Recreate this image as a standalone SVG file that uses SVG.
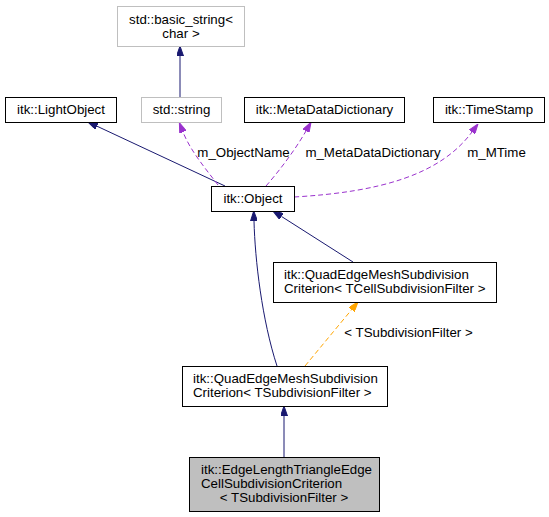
<svg xmlns="http://www.w3.org/2000/svg" width="549" height="517" viewBox="0 0 549 517">
<defs>
<style>
text{font-family:"Liberation Sans",Arial,sans-serif;font-size:13.3px;fill:#000}
.c{text-anchor:middle}
.box{fill:#fff;stroke:#000;stroke-width:1}
.gbox{fill:#fff;stroke:#bfbfbf;stroke-width:1}
.main{fill:#bfbfbf;stroke:#000;stroke-width:1}
.inh{fill:none;stroke:#191970;stroke-width:1}
.use{fill:none;stroke:#9a32cd;stroke-width:1;stroke-dasharray:5,3}
.tpl{fill:none;stroke:#ffa500;stroke-width:1;stroke-dasharray:5,3}
</style>
<marker id="aN" markerUnits="userSpaceOnUse" viewBox="0 0 10 7" refX="0" refY="3.5" markerWidth="10" markerHeight="7" orient="auto"><path d="M0,0L10,3.5L0,7z" fill="#191970" stroke="#191970"/></marker>
<marker id="aP" markerUnits="userSpaceOnUse" viewBox="0 0 10 7" refX="0" refY="3.5" markerWidth="10" markerHeight="7" orient="auto"><path d="M0,0L10,3.5L0,7z" fill="#9a32cd" stroke="#9a32cd"/></marker>
<marker id="aO" markerUnits="userSpaceOnUse" viewBox="0 0 10 7" refX="0" refY="3.5" markerWidth="10" markerHeight="7" orient="auto"><path d="M0,0L10,3.5L0,7z" fill="#ffa500" stroke="#ffa500"/></marker>
</defs>
<rect width="549" height="517" fill="#fff"/>
<g id="connectors">
<path class="inh" d="M180,97L180,56" marker-end="url(#aN)"/>
<path class="inh" d="M225,186L97,126.2" marker-end="url(#aN)"/>
<path class="use" d="M218,185C205,168 190,150 183,132" marker-end="url(#aP)"/>
<path class="use" d="M266,186C280,170 295,150 306,131" marker-end="url(#aP)"/>
<path class="use" d="M294,197C380,192 440,175 472,132" marker-end="url(#aP)"/>
<path class="inh" d="M277,366C262,320 255,260 254,221" marker-end="url(#aN)"/>
<path class="inh" d="M353,262L281.4,216.4" marker-end="url(#aN)"/>
<path class="tpl" d="M305,366L351.6,309.7" marker-end="url(#aO)"/>
<path class="inh" d="M284,457L284,416" marker-end="url(#aN)"/>
<text class="c" x="243.5" y="157">m_ObjectName</text>
<text class="c" x="373" y="157">m_MetaDataDictionary</text>
<text class="c" x="496.5" y="157">m_MTime</text>
<text class="c" x="408.5" y="337">&lt; TSubdivisionFilter &gt;</text>
</g>
<g id="basic_string">
<rect class="gbox" x="117.5" y="6.5" width="127" height="40"/>
<text class="c" x="181" y="23.5">std::basic_string&lt;</text>
<text class="c" x="181" y="37.5">char &gt;</text>
</g>
<g id="lightobject">
<rect class="box" x="5.5" y="97.5" width="111" height="25"/>
<text class="c" x="61" y="114">itk::LightObject</text>
</g>
<g id="stdstring">
<rect class="gbox" x="141.5" y="97.5" width="80" height="25"/>
<text class="c" x="181.5" y="114">std::string</text>
</g>
<g id="metadatadictionary">
<rect class="box" x="244.5" y="97.5" width="160" height="25"/>
<text class="c" x="324.5" y="114">itk::MetaDataDictionary</text>
</g>
<g id="timestamp">
<rect class="box" x="433.5" y="97.5" width="111" height="25"/>
<text class="c" x="489" y="114">itk::TimeStamp</text>
</g>
<g id="object">
<rect class="box" x="211.5" y="186.5" width="83" height="25"/>
<text class="c" x="253" y="203">itk::Object</text>
</g>
<g id="criterion_cell">
<rect class="box" x="273.5" y="262.5" width="223" height="40"/>
<text x="284" y="279">itk::QuadEdgeMeshSubdivision</text>
<text x="284" y="293">Criterion&lt; TCellSubdivisionFilter &gt;</text>
</g>
<g id="criterion_sub">
<rect class="box" x="182.5" y="366.5" width="205" height="40"/>
<text x="193" y="383">itk::QuadEdgeMeshSubdivision</text>
<text x="193" y="397">Criterion&lt; TSubdivisionFilter &gt;</text>
</g>
<g id="edgelength">
<rect class="main" x="189.5" y="457.5" width="190" height="54"/>
<text x="201" y="474">itk::EdgeLengthTriangleEdge</text>
<text x="201" y="488">CellSubdivisionCriterion</text>
<text class="c" x="284" y="502">&lt; TSubdivisionFilter &gt;</text>
</g>
</svg>
